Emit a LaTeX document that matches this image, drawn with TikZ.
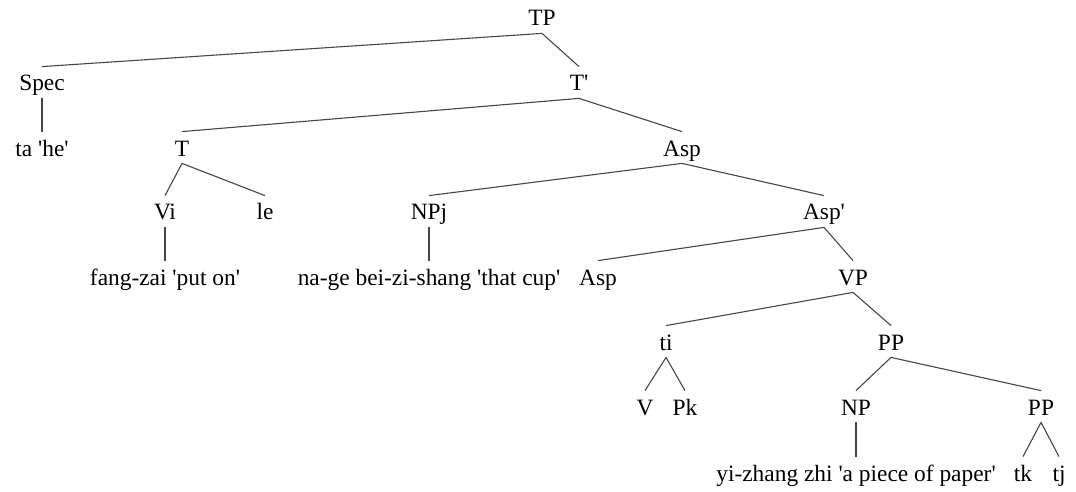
\documentclass[tikz,border=0pt]{standalone}
\usepackage{fontspec}
\usepackage{tikz}
\newfontfamily\treefont{Liberation Serif}
\definecolor{branchGray}{RGB}{70,70,70}
\tikzset{
  cat/.style={anchor=base,inner xsep=1pt,inner ysep=3.5pt,text height=8.5pt,text depth=0pt,
    font=\treefont\fontsize{11.7}{14}\selectfont},
  branch/.style={draw=branchGray,line width=0.55pt}
}

\begin{document}
\begin{tikzpicture}[x=0.5pt,y=-0.5pt]
\useasboundingbox (0,0) rectangle (1076,492);
% categories, row by row (baselines)
\node[cat] (TP)    at (542,26)  {TP};
\node[cat] (Spec)  at (42,91)   {Spec};
\node[cat] (Tbar)  at (579,91)  {T'};
\node[cat] (ta)    at (42,156)  {ta 'he'};
\node[cat] (T)     at (182,156) {T};
\node[cat] (AspP)  at (682,156) {Asp};
\node[cat] (Vi)    at (165,220) {Vi};
\node[cat] (le)    at (265,220) {le};
\node[cat] (NPj)   at (429,220) {NPj};
\node[cat] (Aspbar) at (824,220) {Asp'};
\node[cat] (fang)  at (165,285) {fang-zai 'put on'};
\node[cat] (nage)  at (429,285) {na-ge bei-zi-shang 'that cup'};
\node[cat] (Asp)   at (598,285) {Asp};
\node[cat] (VP)    at (853,285) {VP};
\node[cat] (ti)    at (666,350) {ti};
\node[cat] (PP)    at (891,350) {PP};
\node[cat] (V)     at (645,415) {V};
\node[cat] (Pk)    at (685,415) {Pk};
\node[cat] (NP)    at (856,415) {NP};
\node[cat] (PPlow) at (1041,415) {PP};
\node[cat] (yi)    at (856,481) {yi-zhang zhi 'a piece of paper'};
\node[cat] (tk)    at (1023,481) {tk};
\node[cat] (tj)    at (1059,481) {tj};
% branches
\foreach \mother/\daughter in {TP/Spec,TP/Tbar,Spec/ta,Tbar/T,Tbar/AspP,T/Vi,T/le,
    AspP/NPj,AspP/Aspbar,Vi/fang,NPj/nage,Aspbar/Asp,Aspbar/VP,VP/ti,VP/PP,
    ti/V,ti/Pk,PP/NP,PP/PPlow,NP/yi,PPlow/tk,PPlow/tj}
  \draw[branch] (\mother.south) -- (\daughter.north);
\end{tikzpicture}
\end{document}
